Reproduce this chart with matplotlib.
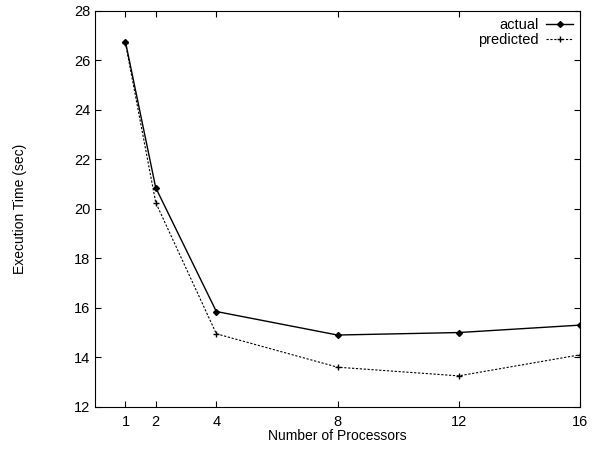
import matplotlib
matplotlib.use('Agg')
import matplotlib.pyplot as plt

plt.rcParams['font.family'] = ['Liberation Sans', 'DejaVu Sans']

procs = [1, 2, 4, 8, 12, 16]
actual = [26.75, 20.85, 15.85, 14.9, 15.0, 15.3]
predicted = [26.7, 20.25, 14.95, 13.6, 13.25, 14.1]

fig = plt.figure(figsize=(6.06, 4.5), dpi=100)
ax = fig.add_axes([0.157, 0.096, 0.8, 0.88])

ax.plot(procs, actual, '-', color='black', lw=1.0, marker='D', ms=3, label='actual')
ax.plot(procs, predicted, '--', color='black', lw=0.8, marker='+', ms=5, dashes=(2, 1.5), label='predicted')

ax.set_xlim(0, 16)
ax.set_ylim(12, 28)
ax.set_xticks(procs)
ax.set_yticks(range(12, 29, 2))
ax.tick_params(direction='in', top=True, right=True, labelsize=10.5, length=4)
ax.tick_params(axis='x', pad=6)
ax.set_xlabel('Number of Processors', fontsize=10, labelpad=0)
ax.set_ylabel('Execution Time (sec)', fontsize=10, labelpad=34)

ax.legend(loc='upper right', frameon=False, markerfirst=False, fontsize=10.5,
          handlelength=1.8, handletextpad=0.5, labelspacing=0.05, borderaxespad=0.1)

fig.savefig('out.png', dpi=100)
